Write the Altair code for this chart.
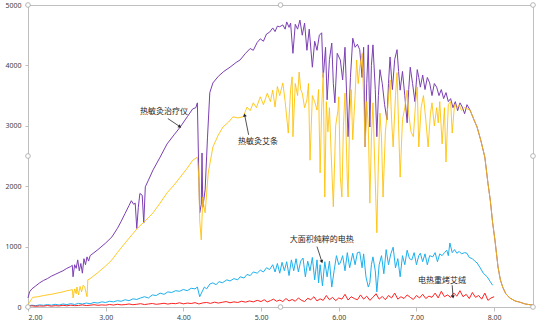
import altair as alt
import pandas as pd

# ---- series data: (wavelength, value) ----
purple_pts = [
    (2.00,150),(2.02,250),(2.05,300),(2.10,350),(2.15,400),(2.20,440),(2.25,470),(2.30,510),
    (2.35,540),(2.40,570),(2.45,600),(2.50,640),(2.55,670),(2.57,690),(2.58,500),(2.60,700),
    (2.62,640),(2.64,780),(2.66,600),(2.68,720),(2.70,560),(2.72,800),(2.74,700),(2.76,830),
    (2.78,760),(2.80,850),(2.90,950),(3.00,1060),(3.08,1160),(3.15,1300),(3.20,1420),(3.25,1550),
    (3.30,1680),(3.33,1760),(3.36,1700),(3.38,1720),(3.40,1300),(3.42,1650),(3.44,1880),(3.47,1850),
    (3.49,1390),(3.51,1990),(3.55,2100),(3.61,2270),(3.70,2480),(3.79,2700),(3.88,2850),(3.96,2980),
    (4.05,3150),(4.12,3280),(4.16,3300),(4.18,3380),(4.20,2100),(4.21,1560),(4.23,1700),(4.24,2550),
    (4.25,1650),(4.28,1940),(4.31,2800),(4.34,3550),(4.38,3710),(4.45,3820),(4.52,3900),(4.60,3970),
    (4.68,4050),(4.73,4090),(4.80,4200),(4.86,4280),(4.90,4250),(4.95,4380),(4.99,4440),(5.03,4400),
    (5.07,4520),(5.11,4550),(5.15,4620),(5.18,4560),(5.21,4650),(5.24,4640),(5.28,4670),(5.31,4600),
    (5.33,4720),(5.36,4630),(5.38,4700),(5.41,4200),(5.44,4680),(5.47,4600),(5.50,4750),(5.53,4500),
    (5.56,4700),(5.59,4250),(5.62,4600),(5.66,3970),(5.69,4400),(5.72,4250),(5.75,4500),(5.78,4540),
    (5.80,3800),(5.83,4300),(5.85,3430),(5.88,4100),(5.91,4370),(5.93,3700),(5.95,3380),(5.98,4200),
    (6.02,4090),(6.05,3760),(6.08,4300),(6.12,2820),(6.15,3800),(6.18,4450),(6.21,4300),(6.24,4350),
    (6.27,4260),(6.30,3800),(6.32,4300),(6.34,2650),(6.36,3700),(6.38,4340),(6.40,2980),(6.42,4000),
    (6.44,4340),(6.47,3600),(6.49,2820),(6.51,3500),(6.53,3930),(6.56,3700),(6.59,3350),(6.62,3100),
    (6.64,3700),(6.66,4140),(6.69,3600),(6.72,4100),(6.75,4260),(6.77,3900),(6.79,3590),(6.82,3900),
    (6.85,3500),(6.88,3050),(6.90,3600),(6.92,3970),(6.95,3700),(6.98,3400),(7.01,3930),(7.03,3800),
    (7.05,3640),(7.08,3840),(7.11,3600),(7.14,3800),(7.17,3710),(7.20,3500),(7.23,3700),(7.26,3640),
    (7.29,3500),(7.32,3600),(7.35,3450),(7.38,3550),(7.41,3400),(7.44,3450),(7.47,3300),(7.50,3400),
    (7.53,3250),(7.56,3380),(7.59,3310),(7.62,3200),(7.65,3350),(7.69,3260),(7.74,3100),(7.78,2980),
    (7.83,2750),(7.88,2480),(7.92,2050),(7.95,1770),(7.98,1400),(8.01,1110),(8.05,660),(8.08,450),
    (8.11,330),(8.15,220),(8.20,150),(8.27,100),(8.33,80),(8.40,50),(8.50,30),
]

yellow_pts = [
    (2.00,40),(2.03,100),(2.06,160),(2.13,170),(2.20,190),(2.30,210),(2.39,235),(2.45,250),
    (2.50,270),(2.55,280),(2.57,290),(2.58,150),(2.60,300),(2.62,220),(2.63,330),(2.65,200),
    (2.67,340),(2.69,250),(2.71,360),(2.73,330),(2.76,170),(2.77,450),(2.80,470),(2.85,520),
    (2.90,570),(3.00,680),(3.08,780),(3.15,900),(3.25,1060),(3.34,1200),(3.42,1320),(3.48,1390),
    (3.55,1480),(3.61,1560),(3.70,1720),(3.79,1890),(3.88,2020),(3.96,2150),(4.05,2300),(4.12,2430),
    (4.18,2480),(4.20,2100),(4.21,1440),(4.23,1110),(4.25,1820),(4.26,1700),(4.28,1560),(4.32,2220),
    (4.38,2650),(4.45,2850),(4.51,2980),(4.58,3060),(4.64,3150),(4.70,3130),(4.77,3150),(4.82,3310),
    (4.86,3250),(4.90,3380),(4.94,3300),(4.99,3480),(5.03,3350),(5.08,3540),(5.12,3400),(5.15,3590),
    (5.18,3310),(5.21,3650),(5.24,3500),(5.28,3710),(5.31,3400),(5.35,2880),(5.38,3600),(5.40,3810),
    (5.41,2820),(5.44,3700),(5.47,3500),(5.49,3890),(5.51,3600),(5.53,3540),(5.56,3300),(5.59,3430),
    (5.61,3700),(5.63,2430),(5.66,3500),(5.69,3400),(5.72,3260),(5.74,3600),(5.76,2220),(5.78,3300),
    (5.80,3880),(5.82,1820),(5.84,3400),(5.86,2900),(5.88,3300),(5.90,2600),(5.93,1660),(5.96,3000),
    (5.99,3260),(6.00,3480),(6.02,2150),(6.04,1820),(6.06,3000),(6.08,3540),(6.11,2100),(6.12,1820),
    (6.14,3100),(6.16,3600),(6.18,2770),(6.21,3500),(6.23,4090),(6.25,3700),(6.27,3970),(6.30,4200),
    (6.32,3500),(6.34,2650),(6.36,3400),(6.38,3000),(6.40,1720),(6.42,2800),(6.44,3380),(6.46,2500),
    (6.49,1230),(6.51,2400),(6.53,3210),(6.55,2800),(6.57,1820),(6.60,2900),(6.63,3300),(6.66,3760),
    (6.68,3100),(6.70,2650),(6.73,3500),(6.75,3880),(6.77,3000),(6.79,2150),(6.82,3100),(6.85,3300),
    (6.88,3590),(6.90,3200),(6.93,2900),(6.96,2820),(6.99,3400),(7.01,3640),(7.03,2650),(7.06,3300),
    (7.09,3500),(7.12,3100),(7.15,2650),(7.18,3200),(7.20,3380),(7.23,3000),(7.26,3300),(7.28,3050),
    (7.30,3400),(7.33,2700),(7.36,3300),(7.38,2400),(7.41,3350),(7.44,3400),(7.46,2880),(7.49,3350),
    (7.52,3300),(7.55,3350),(7.58,3250),(7.62,3300),(7.65,3280),(7.69,3260),(7.74,3100),(7.78,2980),
    (7.83,2750),(7.88,2480),(7.92,2050),(7.95,1770),(7.98,1400),(8.01,1110),(8.05,660),(8.08,450),
    (8.11,330),(8.15,220),(8.20,150),(8.27,100),(8.33,80),(8.40,50),(8.50,30),
]

blue_pts = [
    (2.00,20),(2.05,30),(2.10,22),(2.15,35),(2.20,28),(2.25,40),(2.30,30),(2.35,45),(2.40,32),
    (2.45,50),(2.50,40),(2.55,55),(2.60,42),(2.65,60),(2.70,50),(2.75,65),(2.80,55),(2.85,75),
    (2.90,65),(2.95,85),(3.00,75),(3.05,95),(3.10,85),(3.15,105),(3.20,95),(3.25,120),(3.30,105),
    (3.35,135),(3.40,125),(3.45,150),(3.50,170),(3.55,150),(3.60,200),
    (3.65,190),(3.70,230),(3.75,210),(3.80,250),(3.85,240),(3.90,270),(3.95,260),(4.00,290),(4.05,270),
    (4.10,310),(4.15,300),(4.18,330),(4.21,170),(4.24,250),(4.27,330),(4.30,300),(4.34,380),(4.38,400),
    (4.42,370),(4.46,420),(4.50,400),(4.56,450),(4.60,430),(4.65,470),(4.70,450),(4.73,500),(4.78,480),
    (4.82,540),(4.86,520),(4.90,580),(4.95,560),(4.99,610),(5.03,580),(5.07,650),(5.11,620),(5.15,700),
    (5.18,580),(5.21,720),(5.24,560),(5.27,740),(5.30,600),(5.33,750),(5.36,520),(5.39,780),(5.42,600),
    (5.45,800),(5.48,580),(5.51,760),(5.54,810),(5.57,500),(5.60,760),(5.63,600),(5.66,820),(5.69,450),
    (5.72,780),(5.74,400),(5.76,700),(5.79,350),(5.82,750),(5.85,500),(5.88,760),(5.91,330),(5.94,600),
    (5.97,850),(6.00,700),(6.02,730),(6.05,850),(6.08,600),(6.11,900),(6.14,650),(6.18,890),(6.21,700),
    (6.24,900),(6.27,910),(6.30,650),(6.32,880),(6.35,500),(6.38,330),(6.40,400),(6.42,700),(6.44,830),
    (6.47,600),(6.49,250),(6.52,700),(6.55,850),(6.58,550),(6.61,950),(6.64,700),(6.67,880),(6.70,990),
    (6.73,650),(6.76,800),(6.79,500),(6.82,850),(6.85,700),(6.88,940),(6.91,800),(6.94,780),(6.97,900),
    (7.00,700),(7.03,850),(7.05,890),(7.08,750),(7.11,880),(7.14,700),(7.17,850),(7.21,830),(7.24,900),
    (7.27,750),(7.30,880),(7.33,850),(7.36,900),(7.39,940),(7.41,850),(7.43,1060),(7.46,900),(7.49,950),
    (7.52,890),(7.55,920),(7.58,880),(7.62,900),(7.65,890),(7.68,820),(7.72,800),(7.75,760),(7.78,730),
    (7.82,650),(7.86,560),(7.91,500),(7.95,420),(7.98,360),
]

red_pts = [
    (2.00,10),(2.05,20),(2.10,12),(2.15,18),(2.20,15),(2.25,25),(2.30,14),(2.35,22),(2.40,18),
    (2.45,28),(2.50,20),(2.55,30),(2.60,22),(2.65,26),(2.70,35),(2.75,24),(2.80,30),(2.85,38),
    (2.90,28),(2.95,35),(3.00,30),(3.05,42),(3.10,32),(3.15,45),(3.20,35),(3.25,40),(3.30,50),
    (3.35,38),(3.40,45),(3.45,55),(3.50,40),(3.55,50),(3.60,58),(3.65,45),(3.70,52),(3.75,62),
    (3.80,48),(3.85,60),(3.90,55),(3.95,70),(4.00,52),(4.05,65),(4.10,58),(4.15,72),(4.20,50),
    (4.25,68),(4.30,75),(4.35,60),(4.40,80),(4.45,65),(4.50,78),(4.55,90),(4.60,70),(4.65,85),
    (4.70,75),(4.75,95),(4.80,80),(4.85,100),(4.90,85),(4.95,110),(5.00,90),(5.04,120),(5.08,85),
    (5.12,105),(5.16,130),(5.20,95),(5.24,115),(5.28,90),(5.32,140),(5.36,100),(5.40,125),(5.44,95),
    (5.48,150),(5.52,110),(5.56,90),(5.60,145),(5.64,120),(5.68,170),(5.72,100),(5.76,135),(5.80,110),
    (5.84,190),(5.88,120),(5.92,160),(5.96,105),(6.00,150),(6.04,130),(6.08,210),(6.12,115),(6.16,170),
    (6.20,140),(6.24,120),(6.28,200),(6.32,130),(6.36,180),(6.40,110),(6.44,160),(6.48,220),(6.52,130),
    (6.56,175),(6.60,120),(6.64,190),(6.68,150),(6.72,230),(6.76,130),(6.80,170),(6.84,140),(6.88,200),
    (6.92,160),(6.96,125),(7.00,190),(7.04,150),(7.08,210),(7.12,140),(7.16,180),(7.20,160),(7.24,230),
    (7.28,150),(7.32,260),(7.36,170),(7.40,200),(7.44,160),(7.48,230),(7.52,180),(7.56,270),(7.60,170),
    (7.64,210),(7.68,140),(7.72,240),(7.76,160),(7.80,190),(7.84,130),(7.88,230),(7.92,110),(7.96,150),
    (8.00,170),
]

series_names = ["热敏灸治疗仪", "热敏灸艾条", "大面积纯粹的电热", "电热重烤艾绒"]
series_colors = ["#7B3FB3", "#FFC000", "#1CB0EE", "#FF2020"]
series_opacity = [1.0, 0.85, 1.0, 1.0]
series_pts = [purple_pts, yellow_pts, blue_pts, red_pts]

# annotation labels: text position and arrow (start -> end), data units
label_text = series_names
label_x = [3.75, 4.96, 5.78, 7.33]
label_y = [3230, 2730, 1110, 430]
arrow_x0 = [3.80, 4.84, 5.72, 7.46]
arrow_y0 = [3120, 2850, 1000, 360]
arrow_x1 = [3.95, 4.79, 5.78, 7.47]
arrow_y1 = [2990, 3170, 760, 175]
arrow_angle = [127, 349, 162, 175]

x_ticks = [2, 3, 4, 5, 6, 7, 8]
y_ticks = list(range(0, 5001, 500))

handle_x = [2.0, 5.25, 8.5, 2.0, 8.5, 2.0, 5.25, 8.5]
handle_y = [5000, 5000, 5000, 2500, 2500, 0, 0, 0]

xs = alt.Scale(domain=[2, 8.5], nice=False, zero=False)
ys = alt.Scale(domain=[0, 5000], nice=False)

xaxis = alt.Axis(values=x_ticks, format=".2f", labelFontSize=7, labelColor="#404040",
                 tickColor="#bfbfbf", domainColor="#bfbfbf", tickSize=4, grid=False,
                 title=None, labelPadding=2, labelFont="Noto Sans")
yaxis = alt.Axis(values=y_ticks, format="d", labelFontSize=7, labelColor="#404040",
                 tickColor="#bfbfbf", domainColor="#bfbfbf", tickSize=3, grid=False,
                 title=None, labelPadding=4, labelFont="Noto Sans")

layers = []
for name, pts, col, op in zip(series_names, series_pts, series_colors, series_opacity):
    d = pd.DataFrame({"x": [p[0] for p in pts], "y": [p[1] for p in pts],
                      "o": list(range(len(pts)))})
    layers.append(
        alt.Chart(d).mark_line(strokeWidth=1, color=col, opacity=op).encode(
            x=alt.X("x:Q", scale=xs, axis=xaxis),
            y=alt.Y("y:Q", scale=ys, axis=yaxis),
            order="o:Q",
        )
    )

ann = pd.DataFrame({
    "t": label_text, "lx": label_x, "ly": label_y,
    "x0": arrow_x0, "y0": arrow_y0, "x1": arrow_x1, "y1": arrow_y1, "a": arrow_angle,
})

texts = alt.Chart(ann).mark_text(fontSize=8, font="Noto Sans CJK SC", color="#262626").encode(
    x=alt.X("lx:Q", scale=xs), y=alt.Y("ly:Q", scale=ys), text="t:N")

arrows = alt.Chart(ann).mark_rule(color="#262626", strokeWidth=0.8).encode(
    x=alt.X("x0:Q", scale=xs), y=alt.Y("y0:Q", scale=ys),
    x2="x1:Q", y2="y1:Q")

heads = alt.Chart(ann).mark_point(shape="triangle", filled=True, size=14, color="#262626", opacity=1).encode(
    x=alt.X("x1:Q", scale=xs), y=alt.Y("y1:Q", scale=ys), angle=alt.Angle("a:Q", scale=None))

handles = alt.Chart(pd.DataFrame({"hx": handle_x, "hy": handle_y})).mark_point(
    shape="circle", size=22, filled=True, fill="white", stroke="#a6a6a6", strokeWidth=0.8, opacity=1
).encode(x=alt.X("hx:Q", scale=xs), y=alt.Y("hy:Q", scale=ys))

chart = alt.layer(*layers, arrows, heads, texts, handles).properties(
    width=505, height=302,
    padding={"left": 28, "top": 5, "right": 17, "bottom": 13},
    autosize="none",
    background="white",
).configure_view(stroke="#bfbfbf", strokeWidth=1)

chart.save("out.html", embed_options={"renderer": "svg", "actions": False})
